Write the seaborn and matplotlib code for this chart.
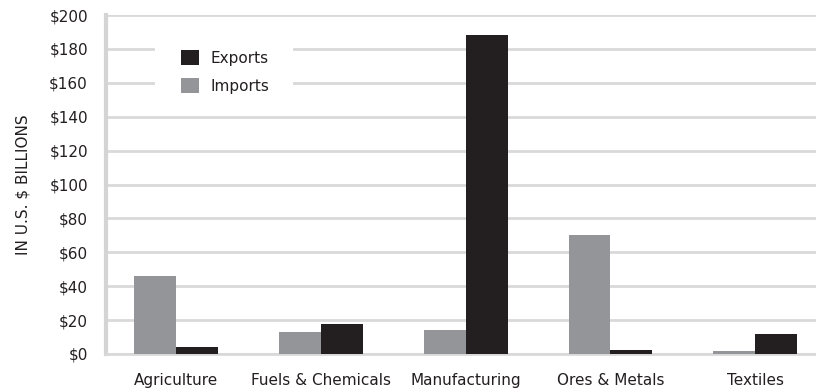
import matplotlib
matplotlib.use("Agg")
import matplotlib.pyplot as plt
from matplotlib.patches import Patch, Rectangle
from matplotlib.ticker import FuncFormatter
import pandas as pd
import seaborn as sns

categories = ["Agriculture", "Fuels & Chemicals", "Manufacturing", "Ores & Metals", "Textiles"]
imports = [46, 13, 14.2, 70, 1.8]
exports = [4.2, 17.7, 188, 2.4, 11.8]
y_ticks = [0, 20, 40, 60, 80, 100, 120, 140, 160, 180, 200]

df = pd.DataFrame({
    "category": categories * 2,
    "value": imports + exports,
    "flow": ["Imports"] * len(categories) + ["Exports"] * len(categories),
})

sns.set_theme(style="white")
plt.rcParams["font.family"] = ["DejaVu Sans"]

colors = {"Imports": "#939598", "Exports": "#231f20"}
text_color = "#231f20"

fig = plt.figure(figsize=(8.16, 3.91), dpi=100)
ax = fig.add_axes([106 / 816, 1 - 354 / 391, 1 - 106 / 816, 339 / 391])

sns.barplot(data=df, x="category", y="value", hue="flow",
            hue_order=["Imports", "Exports"], palette=colors,
            width=0.58, saturation=1, edgecolor="none", linewidth=0,
            legend=False, ax=ax, zorder=3)

ax.set_ylim(0, 200)
ax.set_xlim(-0.486, 4.42)
ax.set_yticks(y_ticks)
ax.yaxis.set_major_formatter(FuncFormatter(lambda v, p: f"${int(v)}"))
ax.grid(axis="y", color="#d9d9d9", linewidth=2, zorder=0)
ax.set_axisbelow(True)

for side in ["top", "right"]:
    ax.spines[side].set_visible(False)
ax.spines["left"].set_color("#d4d4d4")
ax.spines["left"].set_linewidth(3)
ax.spines["bottom"].set_color("#d9d9d9")
ax.spines["bottom"].set_linewidth(2)

ax.tick_params(axis="y", length=0, pad=13, labelsize=11, labelcolor=text_color)
ax.tick_params(axis="x", length=0, pad=14, labelsize=11, labelcolor=text_color)

ax.set_xlabel("")
ax.set_ylabel("IN U.S. $ BILLIONS", fontsize=11, color=text_color)
ax.yaxis.set_label_coords(-0.107, 0.5)

# white panel behind the legend, masking the gridlines
ax.add_patch(Rectangle((0.069, 0.705), 0.194, 0.227, transform=ax.transAxes,
                       facecolor="white", edgecolor="none", zorder=4))

handles = [Patch(facecolor=colors["Exports"], edgecolor="none", label="Exports"),
           Patch(facecolor=colors["Imports"], edgecolor="none", label="Imports")]
leg = ax.legend(handles=handles, loc="upper left", bbox_to_anchor=(0.097, 0.915),
                frameon=False, fontsize=11, handlelength=1.15, handleheight=1.15,
                handletextpad=0.75, borderpad=0.4, labelspacing=0.8,
                borderaxespad=0)
for t in leg.get_texts():
    t.set_color(text_color)
leg.set_zorder(5)

fig.savefig("out.png", dpi=100, facecolor="white")
